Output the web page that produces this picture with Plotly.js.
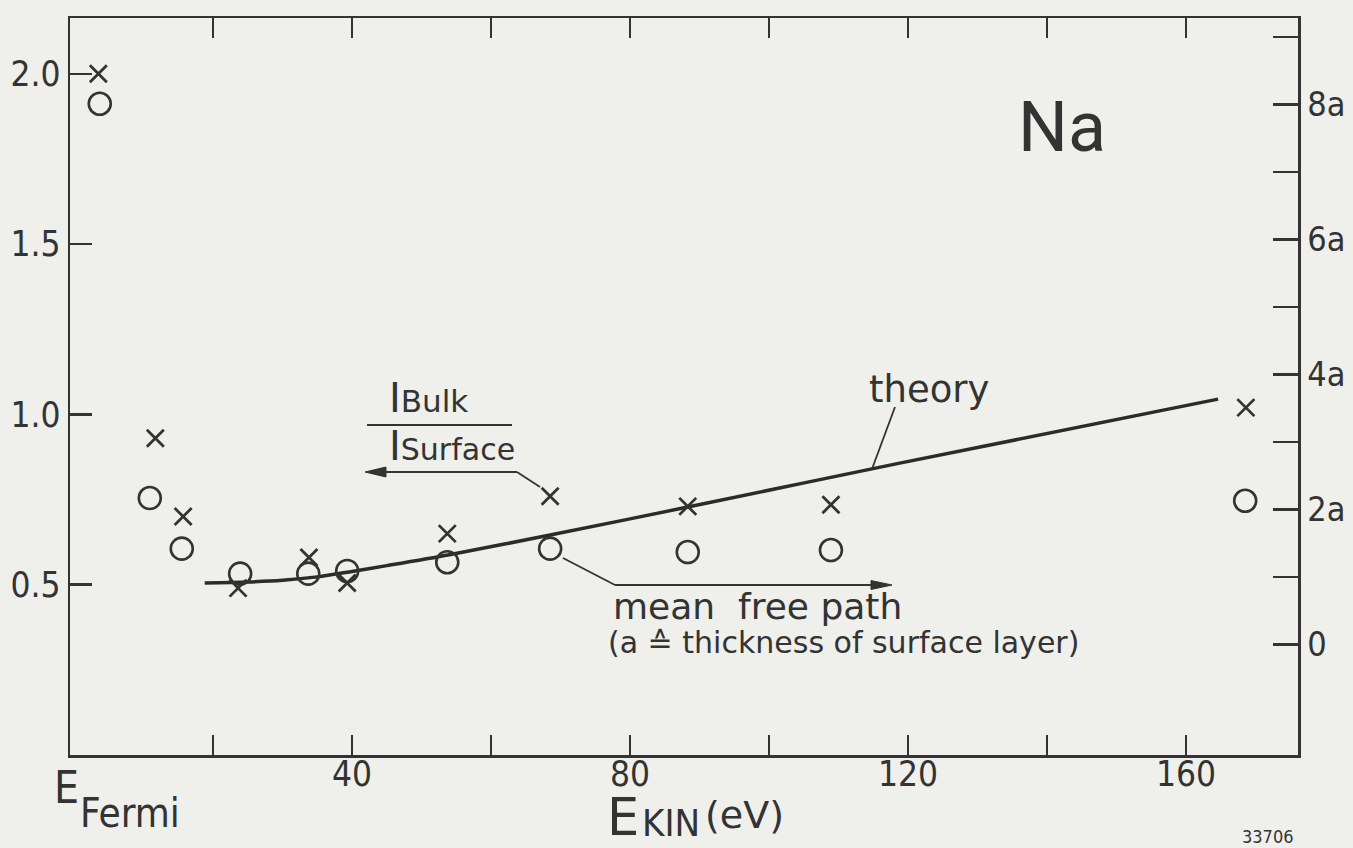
<!DOCTYPE html>
<html>
<head>
<meta charset="utf-8">
<script src="https://cdn.plot.ly/plotly-3.0.1.min.js"></script>
<style>
  html, body { margin: 0; padding: 0; background: #efefeb; }
  #chart { width: 1353px; height: 848px; }
</style>
</head>
<body>
<div id="chart"></div>
<script>
// ---- data ----
// crosses: I_Bulk / I_Surface (left axis)
const ratioEnergy = [3.5, 11.7, 15.7, 23.6, 33.8, 39.3, 53.7, 68.5, 88.3, 108.9, 168.6];
const ratioValue  = [2.00, 0.93, 0.70, 0.49, 0.58, 0.505, 0.65, 0.76, 0.73, 0.735, 1.02];
// circles: mean free path in units of a (right axis)
const mfpEnergy = [3.7, 10.9, 15.5, 23.9, 33.7, 39.3, 53.7, 68.5, 88.3, 108.9, 168.5];
const mfpValue  = [8.01, 2.17, 1.42, 1.05, 1.05, 1.09, 1.22, 1.42, 1.37, 1.40, 2.13];
// theory curve (left axis)
const theoryEnergy = [18.8, 25, 30, 35, 40, 45, 54, 68.5, 88.3, 118.8, 164.6];
const theoryValue  = [0.505, 0.508, 0.513, 0.523, 0.539, 0.556, 0.588, 0.646, 0.728, 0.857, 1.045];
// tick labels
const xTickVals = [20, 40, 60, 80, 100, 120, 140, 160];
const xTickText = ['', '40', '', '80', '', '120', '', '160'];
const yTickVals = [0.5, 1.0, 1.5, 2.0];
const yTickText = ['0.5', '1.0', '1.5', '2.0'];
const y2TickVals = [0, 1, 2, 3, 4, 5, 6, 7, 8, 9];
const y2TickText = ['0', '', '2a', '', '4a', '', '6a', '', '8a', ''];

// ---- styling ----
const INK = '#333333';
const BG = '#efefeb';
const CF = 'DejaVu Sans Condensed, DejaVu Sans, sans-serif';
const SF = 'DejaVu Sans, sans-serif';
// plot box in pixels
const L = 70, R = 1298, T = 18, B = 755;
const px = x => (x - L) / (R - L);
const py = y => (B - y) / (B - T);

const traces = [
  {
    x: theoryEnergy, y: theoryValue, type: 'scatter', mode: 'lines',
    line: {color: '#2b2b2b', width: 3.5, shape: 'spline', smoothing: 0.8},
    hoverinfo: 'skip', showlegend: false
  },
  {
    x: mfpEnergy, y: mfpValue, type: 'scatter', mode: 'markers', yaxis: 'y2',
    marker: {symbol: 'circle-open', size: 22, color: INK, line: {width: 2.6, color: INK}},
    showlegend: false
  },
  {
    x: ratioEnergy, y: ratioValue, type: 'scatter', mode: 'markers',
    marker: {symbol: 'x-thin-open', size: 17, color: INK, line: {width: 2.8, color: INK}},
    showlegend: false
  }
];

function txt(text, x, y, size, family, xanchor, yanchor) {
  return {text: text, xref: 'paper', yref: 'paper', x: px(x), y: py(y),
          xanchor: xanchor || 'left', yanchor: yanchor || 'middle', borderpad: 0,
          showarrow: false, font: {size: size, family: family || SF, color: INK}};
}

const annotations = [
  txt('Na', 1062, 127, 70, 'Roboto, sans-serif', 'center'),
  txt('theory', 868, 390, 37),
  txt('<span style="font-size:40px">I</span>Bulk', 388, 398, 31),
  txt('<span style="font-size:40px">I</span>Surface', 388, 446, 30),
  txt('mean  free path', 612, 606, 36),
  txt('(a \u2259 thickness of surface layer)', 607, 642, 30),
  txt('E', 53, 788, 44, CF),
  txt('Fermi', 79, 813, 40, CF),
  txt('E', 606, 817, 51, SF),
  txt('KIN', 641, 823, 38, CF),
  txt('(eV)', 704, 815, 38, SF),
  txt('33706', 1241, 836, 18, CF)
];
// bottom tick labels, positioned on the x axis scale
xTickVals.forEach((v, i) => {
  if (xTickText[i]) {
    annotations.push({text: xTickText[i], xref: 'x', yref: 'paper', x: v, y: py(774),
      xanchor: 'center', yanchor: 'middle', showarrow: false, borderpad: 0,
      font: {size: 35, family: CF, color: INK}});
  }
});

const line = (x0, y0, x1, y1, w) => ({type: 'line', xref: 'paper', yref: 'paper',
  x0: px(x0), y0: py(y0), x1: px(x1), y1: py(y1), line: {color: INK, width: w || 2}});
const tri = (pts) => ({type: 'path', xref: 'paper', yref: 'paper',
  path: 'M' + pts.map(p => px(p[0]) + ',' + py(p[1])).join(' L') + ' Z',
  fillcolor: INK, line: {color: INK, width: 1}});

const shapes = [
  // fraction bar
  line(367, 425, 512, 425, 2),
  // arrow to left axis
  line(517, 472, 380, 472, 2.2),
  line(517, 472, 540, 487, 1.8),
  tri([[365, 472], [386, 467], [386, 477]]),
  // arrow to right axis
  line(563, 558, 615, 585, 1.8),
  line(615, 585, 876, 585, 2.2),
  tri([[892, 585], [871, 580.5], [871, 589.5]]),
  // theory leader
  line(895, 407, 872, 469, 1.8)
];

const axisBase = {
  showgrid: false, zeroline: false, showline: true, linecolor: INK, linewidth: 2.5,
  ticks: 'inside', tickcolor: INK, tickwidth: 2.5, fixedrange: true
};

const layout = {
  width: 1353, height: 848,
  margin: {l: L, r: 1353 - R, t: T, b: 848 - B},
  paper_bgcolor: BG, plot_bgcolor: BG,
  font: {family: CF, color: INK},
  showlegend: false,
  xaxis: Object.assign({}, axisBase, {
    range: [-0.58, 176.1], tickmode: 'array', tickvals: xTickVals,
    showticklabels: false, ticklen: 20, mirror: 'ticks'
  }),
  yaxis: Object.assign({}, axisBase, {
    range: [0, 2.164], tickmode: 'array', tickvals: yTickVals, ticktext: yTickText,
    ticklen: 22, tickfont: {size: 35, family: CF, color: INK}
  }),
  yaxis2: Object.assign({}, axisBase, {
    overlaying: 'y', side: 'right',
    range: [-1.636, 9.28], tickmode: 'array', tickvals: y2TickVals, ticktext: y2TickText,
    ticklen: 25, tickfont: {size: 34, family: CF, color: INK}
  }),
  annotations: annotations,
  shapes: shapes
};

Plotly.newPlot('chart', traces, layout, {displayModeBar: false, staticPlot: true});
</script>
</body>
</html>
